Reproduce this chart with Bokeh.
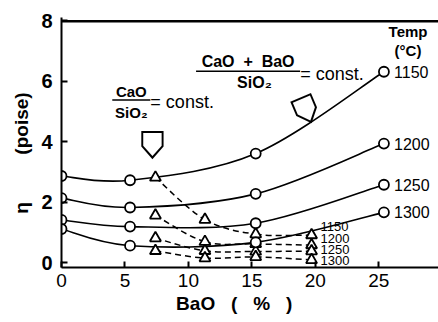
import numpy as np
from bokeh.plotting import figure
from bokeh.models import Range1d, FixedTicker
from bokeh.core.properties import value
from bokeh.embed import file_html
from bokeh.resources import INLINE

# ---------------- data ----------------
temps = ["1150", "1200", "1250", "1300"]

# (CaO+BaO)/SiO2 = const. series (circles, solid curves)
bao_circle = [0, 5.4, 15.3, 25.4]
eta_circle_1150 = [2.87, 2.73, 3.61, 6.31]
eta_circle_1200 = [2.14, 1.83, 2.28, 3.94]
eta_circle_1250 = [1.42, 1.20, 1.31, 2.58]
eta_circle_1300 = [1.12, 0.57, 0.68, 1.67]

# CaO/SiO2 = const. series (triangles, dashed curves)
bao_tri = [7.4, 11.3, 15.3, 19.7]
eta_tri_1150 = [2.82, 1.43, 0.95, 0.92]
eta_tri_1200 = [1.57, 0.70, 0.63, 0.59]
eta_tri_1250 = [0.82, 0.40, 0.38, 0.39]
eta_tri_1300 = [0.40, 0.16, 0.20, 0.10]

x_ticks = [0, 5, 10, 15, 20, 25]
y_ticks = [0, 2, 4, 6, 8]
x_min, x_max = 0, 29.7
y_min, y_max = -0.15, 8.1
y_top = 7.98

circle_series = [eta_circle_1150, eta_circle_1200, eta_circle_1250, eta_circle_1300]
tri_series = [eta_tri_1150, eta_tri_1200, eta_tri_1250, eta_tri_1300]

FONT = value("Liberation Sans")


def catmull_bezier(xs, ys):
    """Bezier segments (Catmull-Rom) passing through the data points."""
    xs = np.asarray(xs, float)
    ys = np.asarray(ys, float)
    n = len(xs)
    out = {k: [] for k in ("x0", "y0", "x1", "y1", "cx0", "cy0", "cx1", "cy1")}
    for i in range(n - 1):
        i0 = max(i - 1, 0)
        i3 = min(i + 2, n - 1)
        out["x0"].append(xs[i]); out["y0"].append(ys[i])
        out["x1"].append(xs[i + 1]); out["y1"].append(ys[i + 1])
        out["cx0"].append(xs[i] + (xs[i + 1] - xs[i0]) / 6)
        out["cy0"].append(ys[i] + (ys[i + 1] - ys[i0]) / 6)
        out["cx1"].append(xs[i + 1] - (xs[i3] - xs[i]) / 6)
        out["cy1"].append(ys[i + 1] - (ys[i3] - ys[i]) / 6)
    return out


p = figure(width=438, height=322,
           x_range=Range1d(x_min, x_max), y_range=Range1d(y_min, y_max),
           output_backend="svg", toolbar_location=None,
           min_border_left=61, min_border_right=0,
           min_border_top=17, min_border_bottom=55)
p.outline_line_color = None
p.xgrid.visible = False
p.ygrid.visible = False
p.background_fill_color = "white"
p.border_fill_color = "white"

for ax in (p.xaxis[0], p.yaxis[0]):
    ax.axis_line_width = 2
    ax.axis_line_color = "black"
    ax.major_tick_in = 6
    ax.major_tick_out = 0
    ax.major_tick_line_width = 2
    ax.minor_tick_line_color = None
    ax.major_label_text_font = "Liberation Sans"
    ax.axis_label_text_font = "Liberation Sans"
    ax.axis_label_text_font_style = "bold"
    ax.axis_label_text_font_size = "19px"
    ax.axis_label_text_color = "black"
    ax.major_label_text_color = "black"

xa = p.xaxis[0]
xa.ticker = FixedTicker(ticks=x_ticks)
xa.major_label_text_font_size = "19px"
xa.major_label_standoff = 6
xa.axis_label = "BaO\u00a0\u00a0\u00a0(\u00a0\u00a0\u00a0%\u00a0\u00a0\u00a0)" + "\u00a0" * 6
xa.axis_label_standoff = 3

ya = p.yaxis[0]
ya.ticker = FixedTicker(ticks=y_ticks)
ya.major_label_text_font_size = "20px"
ya.major_label_text_font_style = "bold"
ya.major_label_standoff = 9
ya.axis_label = "\u03b7" + "\u00a0" * 9 + "(poise)" + "\u00a0" * 4
ya.axis_label_standoff = 6

# top frame line
p.line(x=[x_min, x_max], y=[y_top, y_top], line_color="black", line_width=2.5)

# curves
for ys in circle_series:
    p.bezier(source=catmull_bezier(bao_circle, ys), x0="x0", y0="y0", x1="x1", y1="y1",
             cx0="cx0", cy0="cy0", cx1="cx1", cy1="cy1",
             line_color="black", line_width=1.6)
for ys in tri_series:
    p.bezier(source=catmull_bezier(bao_tri, ys), x0="x0", y0="y0", x1="x1", y1="y1",
             cx0="cx0", cy0="cy0", cx1="cx1", cy1="cy1",
             line_color="black", line_width=1.5, line_dash="6 4")

# markers
for ys in tri_series:
    p.scatter(bao_tri, ys, marker="triangle", size=11, fill_color="white",
              line_color="black", line_width=1.8)
for ys in circle_series:
    p.scatter(bao_circle, ys, marker="circle", size=10, fill_color="white",
              line_color="black", line_width=1.8)

# temperature labels at the circle ends
p.text(x=[26.2] * 4, y=[ys[-1] for ys in circle_series], text=temps,
       text_font=FONT, text_font_size="16px", text_align="left",
       text_baseline="middle", text_color="black")
# temperature labels at the triangle ends
p.text(x=[20.4] * 4, y=[1.2, 0.81, 0.45, 0.08], text=temps,
       text_font=FONT, text_font_size="13px", text_align="left",
       text_baseline="middle", text_color="black")

p.text(x=[27.3, 27.3], y=[7.65, 7.02], text=["Temp", "(\u00b0C)"],
       text_font=FONT, text_font_size="15px", text_font_style="bold",
       text_align="center", text_baseline="middle", text_color="black")

# CaO/SiO2 = const.
p.text(x=[5.5, 5.5], y=[5.66, 4.95], text=["CaO", "SiO\u2082"],
       text_font=FONT, text_font_size="15px", text_font_style="bold",
       text_align="center", text_baseline="middle", text_color="black")
p.segment(x0=[4.0], y0=[5.38], x1=[7.0], y1=[5.38], line_color="black", line_width=1.5)
p.text(x=[7.0], y=[5.3], text=["= const."], text_font=FONT, text_font_size="18px",
       text_align="left", text_baseline="middle", text_color="black")

# (CaO+BaO)/SiO2 = const.
p.text(x=[14.7, 15.2], y=[6.66, 5.95], text=["CaO\u00a0\u00a0+\u00a0\u00a0BaO", "SiO\u2082"],
       text_font=FONT, text_font_size="16px", text_font_style="bold",
       text_align="center", text_baseline="middle", text_color="black")
p.segment(x0=[10.6], y0=[6.33], x1=[18.8], y1=[6.33], line_color="black", line_width=1.5)
p.text(x=[18.8], y=[6.25], text=["= const."], text_font=FONT, text_font_size="18px",
       text_align="left", text_baseline="middle", text_color="black")

# hollow block arrows
p.text(x=[7.17, 19.35], y=[3.80, 4.95], text=["\u2302", "\u2302"],
       angle=[np.pi, np.pi + 0.4], text_font=FONT,
       text_font_size="50px", text_align="center", text_baseline="middle",
       text_color="black")

open("out.html", "w").write(file_html(p, INLINE))
